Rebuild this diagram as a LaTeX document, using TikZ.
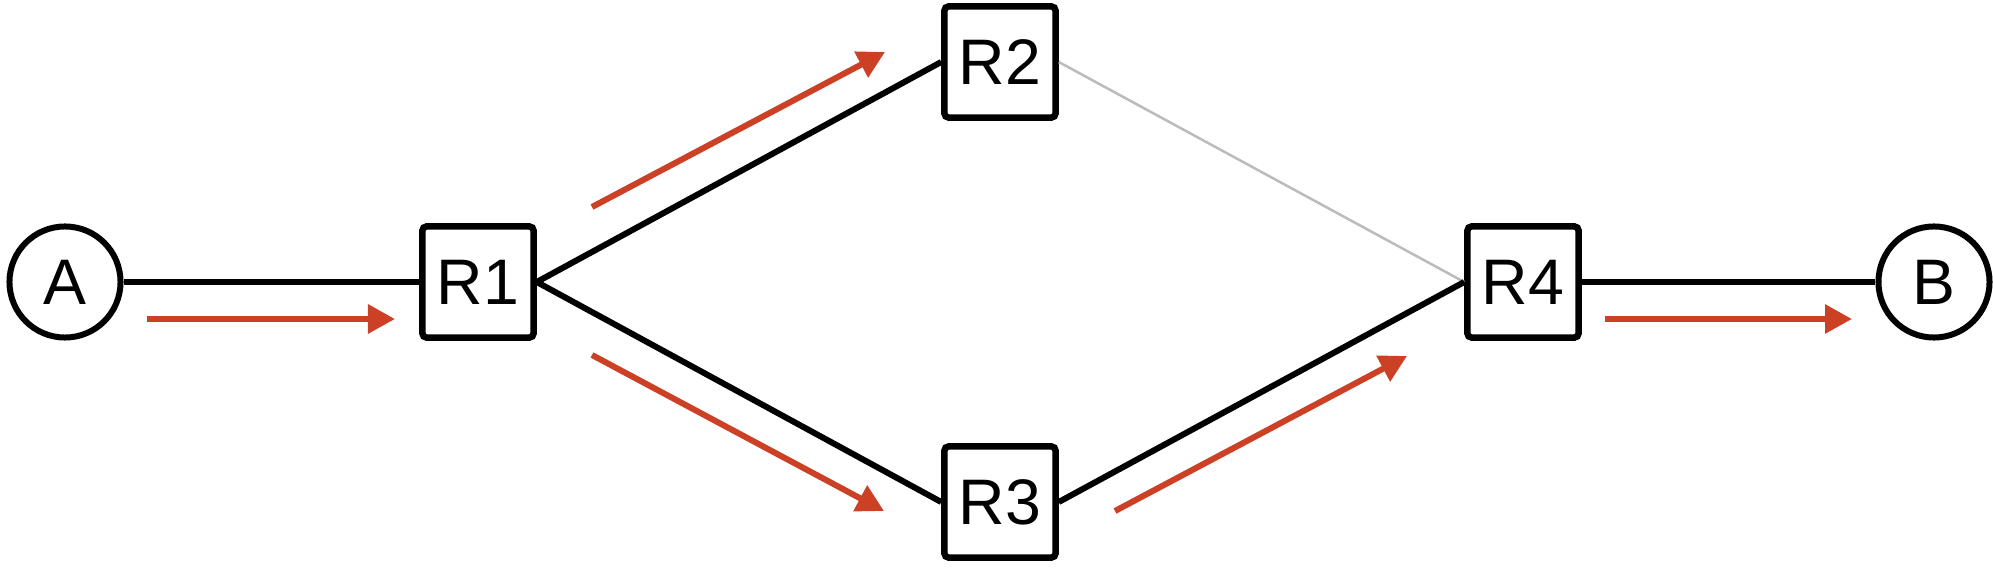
\documentclass[tikz,border=0pt]{standalone}
\usepackage{fontspec}
\setmainfont{Liberation Sans}
\usetikzlibrary{arrows.meta}
\definecolor{flowred}{RGB}{204,65,38}
\definecolor{linkgray}{RGB}{187,187,187}
\begin{document}
\begin{tikzpicture}[x=0.01cm,y=-0.01cm,
  lbl/.style={font=\fontsize{18.3}{20}\selectfont},
  router/.style={lbl, draw=black, line width=0.65mm, fill=white, rectangle, rounded corners=0.4mm, minimum size=1.11cm, inner sep=0pt},
  host/.style={lbl, draw=black, line width=0.6mm, fill=white, circle, minimum size=1.11cm, inner sep=0pt},
  link/.style={line width=0.6mm, draw=black},
  idle/.style={line width=0.25mm, draw=linkgray},
  flow/.style={line width=0.6mm, draw=flowred, -{Triangle[length=2.7mm,width=2.8mm]}}
]
\path[use as bounding box, fill=white] (0,0) rectangle (1993,582);

\node[host]   (A)  at (65,282)   {A};
\node[router] (R1) at (478,282)  {R1};
\node[router] (R2) at (1000,62)  {R2};
\node[router] (R3) at (1000,502) {R3};
\node[router] (R4) at (1523,282) {R4};
\node[host]   (B)  at (1934,282) {B};

\draw[link] (A.east) -- (R1.west);
\draw[link] (R1.east) -- (R2.west);
\draw[link] (R1.east) -- (R3.west);
\draw[idle] (R2.east) -- (R4.west);
\draw[link] (R3.east) -- (R4.west);
\draw[link] (R4.east) -- (B.west);

\coordinate (f1s) at (147,319);
\coordinate (f1e) at (395,319);
\coordinate (f2s) at (592,207);
\coordinate (f2e) at (885,52);
\coordinate (f3s) at (592,355);
\coordinate (f3e) at (884,511);
\coordinate (f4s) at (1115,511);
\coordinate (f4e) at (1407,356);
\coordinate (f5s) at (1605,319);
\coordinate (f5e) at (1852,319);

\draw[flow] (f1s) -- (f1e);
\draw[flow] (f2s) -- (f2e);
\draw[flow] (f3s) -- (f3e);
\draw[flow] (f4s) -- (f4e);
\draw[flow] (f5s) -- (f5e);
\end{tikzpicture}
\end{document}
